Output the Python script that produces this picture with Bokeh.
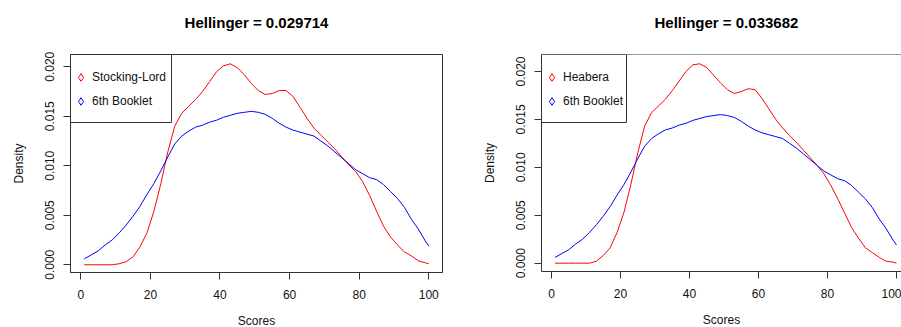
from bokeh.plotting import figure
from bokeh.layouts import row
from bokeh.models import (Range1d, FixedTicker, PrintfTickFormatter, Legend, LegendItem,
                          Span, BoxAnnotation, Title)
from bokeh.embed import file_html
from bokeh.resources import INLINE

# ---------------- data ----------------
scores = [1, 3, 5, 7, 9, 11, 13, 15, 17, 19, 21, 23, 25, 27, 29, 31, 33, 35, 37, 39,
          41, 43, 45, 47, 49, 51, 53, 55, 57, 59, 61, 63, 65, 67, 69, 71, 73, 75, 77, 79,
          81, 83, 85, 87, 89, 91, 93, 95, 97, 99, 100]

stocking_lord = [0, 0, 0, 0, 0, 0.0001, 0.0003, 0.0008, 0.0018, 0.0032,
                 0.0054, 0.0082, 0.0114, 0.0140, 0.0153, 0.0160, 0.0167, 0.0175, 0.0185, 0.0195,
                 0.0201, 0.0203, 0.0199, 0.0192, 0.0183, 0.0176, 0.0172, 0.0173, 0.0176, 0.0176,
                 0.0170, 0.0159, 0.0148, 0.0138, 0.0131, 0.0124, 0.0117, 0.0109, 0.0101, 0.0094,
                 0.0084, 0.0070, 0.0054, 0.0039, 0.0028, 0.0020, 0.0013, 0.0009, 0.0004, 0.0002,
                 0.0001]

heabera = [0, 0, 0, 0, 0, 0, 0.0002, 0.0008, 0.0016, 0.0032,
           0.0053, 0.0082, 0.0115, 0.0143, 0.0157, 0.0164, 0.0171, 0.0180, 0.0190, 0.0200,
           0.0207, 0.0208, 0.0204, 0.0196, 0.0188, 0.0181, 0.0177, 0.0179, 0.0182, 0.0181,
           0.0172, 0.0161, 0.0150, 0.0141, 0.0133, 0.0126, 0.0118, 0.0110, 0.0102, 0.0093,
           0.0081, 0.0067, 0.0052, 0.0037, 0.0026, 0.0016, 0.0011, 0.0006, 0.0002, 0.0001,
           0.0]

booklet6 = [0.0006, 0.0010, 0.0014, 0.0020, 0.0025, 0.0032, 0.0040, 0.0049, 0.0059, 0.0071,
            0.0082, 0.0095, 0.0109, 0.0122, 0.0130, 0.0135, 0.0139, 0.0141, 0.0144, 0.0146,
            0.0149, 0.0151, 0.0153, 0.0154, 0.0155, 0.0154, 0.0152, 0.0148, 0.0143, 0.0139,
            0.0136, 0.0134, 0.0132, 0.0130, 0.0125, 0.0120, 0.0114, 0.0108, 0.0102, 0.0096,
            0.0092, 0.0088, 0.0086, 0.0081, 0.0074, 0.0067, 0.0058, 0.0046, 0.0036, 0.0024,
            0.0019]

titles = ["Hellinger = 0.029714", "Hellinger = 0.033682"]
red_labels = ["Stocking-Lord", "Heabera"]
blue_label = "6th Booklet"
x_ticks = [0, 20, 40, 60, 80, 100]
y_ticks = [0.000, 0.005, 0.010, 0.015, 0.020]

FONT = "Liberation Sans"
DARK = "#333333"
TXT = "#111111"


def make_panel(title, red_vals, red_label, xr, yr, fw, fh,
               mb_left, mb_right, mb_top, mb_bottom, outline, title_align, title_offset,
               legend_w, legend_h, legend_vy):
    p = figure(frame_width=fw, frame_height=fh,
               x_range=Range1d(*xr), y_range=Range1d(*yr),
               output_backend="svg", toolbar_location=None,
               min_border_left=mb_left, min_border_right=mb_right,
               min_border_top=mb_top, min_border_bottom=mb_bottom,
               background_fill_color="white", border_fill_color="white")
    # small blank band between the plot box and the title (R's title sits higher)
    p.add_layout(Title(text=" ", text_font_size="1px", standoff=12), "above")
    p.title.text = title
    p.title.align = title_align
    p.title.offset = title_offset
    p.title.standoff = 18
    p.title.text_font = FONT
    p.title.text_font_size = "15px"
    p.title.text_font_style = "bold"
    p.title.text_color = "#000000"

    p.xgrid.visible = False
    p.ygrid.visible = False
    if outline:
        p.outline_line_color = DARK
        p.outline_line_width = 1
    else:
        p.outline_line_color = None
        p.add_layout(Span(location=yr[1], dimension="width",
                          line_color=DARK, line_width=1))

    for ax in (p.xaxis[0], p.yaxis[0]):
        ax.axis_line_color = DARK
        ax.major_tick_line_color = DARK
        ax.minor_tick_line_color = None
        ax.major_tick_out = 7
        ax.major_tick_in = 0
        ax.major_label_text_font = FONT
        ax.major_label_text_font_size = "12px"
        ax.major_label_text_color = TXT
        ax.axis_label_text_font = FONT
        ax.axis_label_text_font_size = "12px"
        ax.axis_label_text_font_style = "normal"
        ax.axis_label_text_color = TXT

    p.xaxis.ticker = FixedTicker(ticks=x_ticks)
    p.xaxis.major_label_standoff = 10
    p.xaxis.axis_label = "Scores"
    p.xaxis.axis_label_standoff = 12
    p.yaxis.ticker = FixedTicker(ticks=y_ticks)
    p.yaxis.formatter = PrintfTickFormatter(format="%.3f")
    p.yaxis.major_label_orientation = "vertical"
    p.yaxis.major_label_standoff = 9
    p.yaxis.axis_label = "Density"
    p.yaxis.axis_label_standoff = 17

    p.line(scores, red_vals, line_color="#FF0000", line_width=1)
    p.line(scores, booklet6, line_color="#0000FF", line_width=1)

    # hidden marker renderers that only provide the legend symbols (R pch = 5)
    m_red = p.scatter(scores, red_vals, marker="diamond", size=7,
                      fill_color=None, line_color="#FF0000", line_width=1)
    m_blue = p.scatter(scores, booklet6, marker="diamond", size=7,
                       fill_color=None, line_color="#0000FF", line_width=1)
    m_red.visible = False
    m_blue.visible = False

    legend = Legend(items=[LegendItem(label=red_label, renderers=[m_red]),
                           LegendItem(label=blue_label, renderers=[m_blue])],
                    location=(1, legend_vy), margin=0, padding=0, spacing=4,
                    glyph_width=19, glyph_height=20, label_height=20, label_standoff=2,
                    label_text_font=FONT, label_text_font_size="12px",
                    label_text_color=TXT,
                    border_line_color=None, background_fill_alpha=0.0,
                    inactive_fill_alpha=0.0)
    p.add_layout(legend)

    # legend frame (R draws a box round the legend, flush with the plot corner)
    px_x = fw / (xr[1] - xr[0])
    px_y = fh / (yr[1] - yr[0])
    p.add_layout(BoxAnnotation(left=xr[0], right=xr[0] + legend_w / px_x,
                               top=yr[1], bottom=yr[1] - legend_h / px_y,
                               fill_color=None, fill_alpha=0.0,
                               line_color=DARK, line_width=1, line_alpha=1.0))
    return p


p1 = make_panel(titles[0], stocking_lord, red_labels[0],
                (-2.96, 103.94), (-0.00078, 0.02124),
                372, 218, 70, 36, 52, 57, True, "center", 0,
                101, 68, 161)
p2 = make_panel(titles[1], heabera, red_labels[1],
                (-2.90, 101.45), (-0.00087, 0.02177),
                360, 217, 63, 0, 54, 56, False, "left", 113,
                85, 68, 160)

layout = row(p1, p2)
open("out.html", "w").write(file_html(layout, INLINE))
